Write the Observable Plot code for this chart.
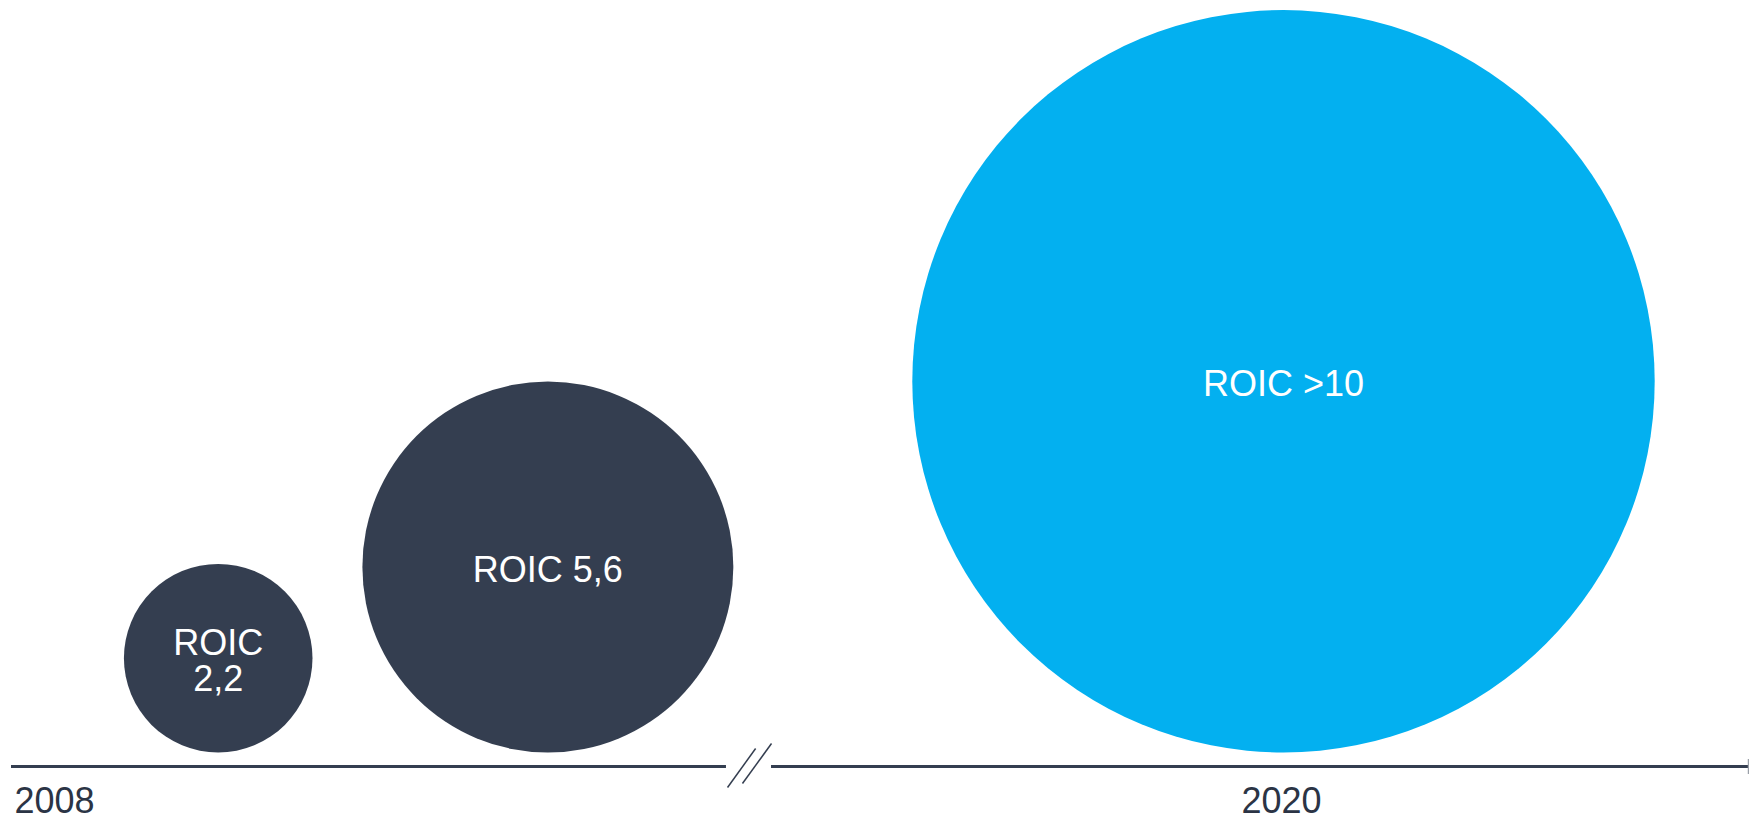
<!DOCTYPE html>
<html>
<head>
<meta charset="utf-8">
<script src="https://cdn.jsdelivr.net/npm/d3@7"></script>
<script src="https://cdn.jsdelivr.net/npm/@observablehq/plot@0.6"></script>
<style>
  html, body { margin: 0; padding: 0; background: #ffffff; }
  #chart svg { display: block; }
</style>
</head>
<body>
<div id="chart"></div>
<script>
// ---- data ----
const positions = [2009.95, 2013.06, 2020];   // position on the timeline (year units)
const labels = ["ROIC\n2,2", "ROIC 5,6", "ROIC >10"];
const sizes = [1, 3.87, 15.5];                // relative bubble area
const groups = ["past", "past", "now"];
const tickYears = [2008, 2020];
const breakAt = 2014.96;                      // axis break position (year units)

const W = 1749, H = 818;
const baseY = 752;                             // bubble baseline (px)
const maxR = 371.2;

const rScale = d3.scaleSqrt().domain([0, d3.max(sizes)]).range([0, maxR]);
const bubbles = positions.map((p, i) => ({pos: p, label: labels[i], size: sizes[i], group: groups[i], cy: rScale(sizes[i])}));

const axisY = -14;
const segments = [
  {x1: 2008, x2: breakAt - 0.215},
  {x1: breakAt + 0.21, x2: 2025}
];
const slashes = [
  {x1: breakAt - 0.205, y1: axisY - 21, x2: breakAt + 0.06, y2: axisY + 18},
  {x1: breakAt - 0.064, y1: axisY - 17, x2: breakAt + 0.21, y2: axisY + 23}
];

const dark = "#343e50";
const font = "'Liberation Sans', Arial, sans-serif";

const chart = Plot.plot({
  width: W,
  height: H,
  margin: 0,
  style: {fontFamily: font, background: "#ffffff", overflow: "visible"},
  x: {type: "linear", domain: [2008, 2020], range: [11, 1283], axis: null},
  y: {type: "linear", domain: [0, baseY], range: [baseY, 0], axis: null},
  r: {type: "sqrt", domain: [0, d3.max(sizes)], range: [0, maxR]},
  color: {domain: ["past", "now"], range: [dark, "#03b0f0"]},
  marks: [
    Plot.dot(bubbles, {x: "pos", y: "cy", r: "size", fill: "group", stroke: null}),
    Plot.text(bubbles, {x: "pos", y: "cy", text: "label", fill: "#ffffff", fontSize: 36, lineHeight: 1, lineAnchor: "middle", dy: 3}),
    Plot.ruleY(segments, {y: axisY, x1: "x1", x2: "x2", stroke: dark, strokeWidth: 3}),
    Plot.link(slashes, {x1: "x1", y1: "y1", x2: "x2", y2: "y2", stroke: dark, strokeWidth: 1.5}),
    Plot.ruleX([2024.387], {y1: axisY - 8, y2: axisY + 7, stroke: "#9aa0a8", strokeWidth: 1.5}),
    Plot.text([tickYears[0]], {x: d => d, y: -60, text: d => String(d), textAnchor: "start", lineAnchor: "bottom", dx: 3, fill: "#2b3445", fontSize: 36}),
    Plot.text([tickYears[1]], {x: d => d, y: -60, text: d => String(d), textAnchor: "middle", lineAnchor: "bottom", dx: -2, fill: "#2b3445", fontSize: 36})
  ]
});
document.getElementById("chart").appendChild(chart);
</script>
</body>
</html>
